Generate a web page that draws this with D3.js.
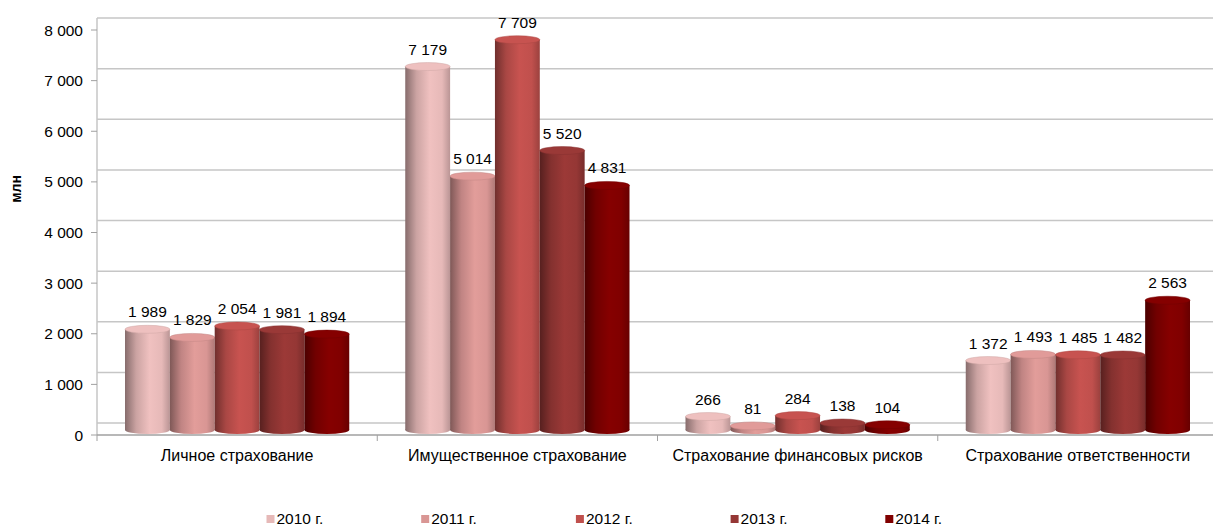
<!DOCTYPE html>
<html>
<head>
<meta charset="utf-8">
<script src="https://cdn.jsdelivr.net/npm/d3@7"></script>
<style>
  body { margin: 0; background: #fff; }
  text { font-family: "Liberation Sans", Arial, sans-serif; fill: #000; }
</style>
</head>
<body>
<script>
// chart data
var categories = ["Личное страхование", "Имущественное страхование", "Страхование финансовых рисков", "Страхование ответственности"];
var years = ["2010 г.", "2011 г.", "2012 г.", "2013 г.", "2014 г."];
var v2010 = [1989, 7179, 266, 1372];
var v2011 = [1829, 5014, 81, 1493];
var v2012 = [2054, 7709, 284, 1485];
var v2013 = [1981, 5520, 138, 1482];
var v2014 = [1894, 4831, 104, 2563];
var yTicks = [0, 1000, 2000, 3000, 4000, 5000, 6000, 7000, 8000];
var colors = ["#E6B9B8", "#D99694", "#C0504D", "#953735", "#800000"];

var series = [v2010, v2011, v2012, v2013, v2014];

var width = 1213, height = 524;
var left = 97, right = 1218;
var wallShift = 12;   // back wall grid sits higher than the front
var topShift = 5;

var fmt = d3.formatLocale({decimal: ",", thousands: "\u00a0", grouping: [3], currency: ["", ""]}).format(",d");

var svg = d3.select("body").append("svg")
    .attr("width", width)
    .attr("height", height);

var y = d3.scaleLinear().domain([0, 8000]).range([435, 30]);
var x0 = d3.scaleBand().domain(categories).range([left, right]);
var x1 = d3.scaleBand().domain(years).range([28, x0.bandwidth() - 28]);

// gradients for the cylinders
var defs = svg.append("defs");
colors.forEach(function (c, i) {
    var g = defs.append("linearGradient").attr("id", "grad" + i)
        .attr("x1", 0).attr("x2", 1).attr("y1", 0).attr("y2", 0);
    var base = d3.color(c);
    g.append("stop").attr("offset", "0%").attr("stop-color", d3.rgb(base).darker(1.5));
    g.append("stop").attr("offset", "25%").attr("stop-color", d3.rgb(base).darker(0.35));
    g.append("stop").attr("offset", "55%").attr("stop-color", d3.rgb(base).brighter(0.12));
    g.append("stop").attr("offset", "82%").attr("stop-color", c);
    g.append("stop").attr("offset", "100%").attr("stop-color", d3.rgb(base).darker(0.6));
});

// back wall grid
svg.append("g").selectAll("line")
    .data(yTicks)
    .enter().append("line")
    .attr("x1", left).attr("x2", width)
    .attr("y1", function (d) { return y(d) - wallShift; })
    .attr("y2", function (d) { return y(d) - wallShift; })
    .attr("stroke", "#c6c6c6").attr("stroke-width", 1.5);

svg.append("line")
    .attr("x1", left).attr("x2", left)
    .attr("y1", y(8000) - wallShift).attr("y2", y(0))
    .attr("stroke", "#c6c6c6").attr("stroke-width", 1.5);

// y axis labels and ticks
var yAxis = svg.append("g");
yAxis.selectAll("text")
    .data(yTicks)
    .enter().append("text")
    .attr("x", 83)
    .attr("y", function (d) { return y(d) + 5.5; })
    .attr("text-anchor", "end")
    .style("font-size", "15.5px")
    .text(function (d) { return fmt(d); });
yAxis.selectAll("line")
    .data(yTicks)
    .enter().append("line")
    .attr("x1", left - 6).attr("x2", left)
    .attr("y1", function (d) { return y(d); })
    .attr("y2", function (d) { return y(d); })
    .attr("stroke", "#a0a0a0");

svg.append("text")
    .attr("transform", "translate(21,189) rotate(-90)")
    .attr("text-anchor", "middle")
    .style("font-size", "14px")
    .style("font-weight", "bold")
    .text("млн");

// floor axis
svg.append("line")
    .attr("x1", left).attr("x2", width)
    .attr("y1", y(0)).attr("y2", y(0))
    .attr("stroke", "#a0a0a0").attr("stroke-width", 1.5);
svg.append("g").selectAll("line")
    .data(categories.concat(["end"]))
    .enter().append("line")
    .attr("x1", function (d, i) { return left + i * x0.step(); })
    .attr("x2", function (d, i) { return left + i * x0.step(); })
    .attr("y1", y(0)).attr("y2", y(0) + 6)
    .attr("stroke", "#a0a0a0");

svg.append("g").selectAll("text")
    .data(categories)
    .enter().append("text")
    .attr("x", function (d) { return x0(d) + x0.bandwidth() / 2; })
    .attr("y", 461)
    .attr("text-anchor", "middle")
    .style("font-size", "16px")
    .text(function (d) { return d; });

// cylinders
var ry = 4;
var groups = svg.append("g").selectAll("g")
    .data(categories)
    .enter().append("g")
    .attr("transform", function (d) { return "translate(" + x0(d) + ",0)"; });

groups.each(function (cat, ci) {
    var g = d3.select(this);
    var bars = years.map(function (yr, si) {
        return {year: yr, si: si, value: series[si][ci]};
    });
    var bw = x1.bandwidth();
    var bottom = y(0) - topShift;

    var cyl = g.selectAll("g.cyl")
        .data(bars)
        .enter().append("g").attr("class", "cyl");

    cyl.append("rect")
        .attr("x", function (d) { return x1(d.year); })
        .attr("width", bw)
        .attr("y", function (d) { return y(d.value) - topShift; })
        .attr("height", function (d) { return bottom - (y(d.value) - topShift); })
        .attr("fill", function (d) { return "url(#grad" + d.si + ")"; });

    cyl.append("ellipse")
        .attr("cx", function (d) { return x1(d.year) + bw / 2; })
        .attr("cy", bottom)
        .attr("rx", bw / 2).attr("ry", ry)
        .attr("fill", function (d) { return "url(#grad" + d.si + ")"; });

    cyl.append("ellipse")
        .attr("cx", function (d) { return x1(d.year) + bw / 2; })
        .attr("cy", function (d) { return y(d.value) - topShift; })
        .attr("rx", bw / 2).attr("ry", ry)
        .attr("fill", function (d) { return d3.rgb(colors[d.si]).brighter(0.1); })
        .attr("stroke", function (d) { return d3.rgb(colors[d.si]).darker(0.3); })
        .attr("stroke-width", 0.5);

    cyl.append("text")
        .attr("x", function (d) { return x1(d.year) + bw / 2; })
        .attr("y", function (d) { return y(d.value) - topShift - 12; })
        .attr("text-anchor", "middle")
        .style("font-size", "15.5px")
        .text(function (d) { return fmt(d.value); });
});

// legend (cut by the bottom edge, as in the source)
var legend = svg.append("g").selectAll("g")
    .data(years)
    .enter().append("g")
    .attr("transform", function (d, i) { return "translate(" + (266.5 + i * 154.7) + ",515)"; });
legend.append("rect")
    .attr("width", 8).attr("height", 8)
    .attr("fill", function (d, i) { return colors[i]; });
legend.append("text")
    .attr("x", 10).attr("y", 9)
    .style("font-size", "15.5px")
    .text(function (d) { return d; });
</script>
</body>
</html>
